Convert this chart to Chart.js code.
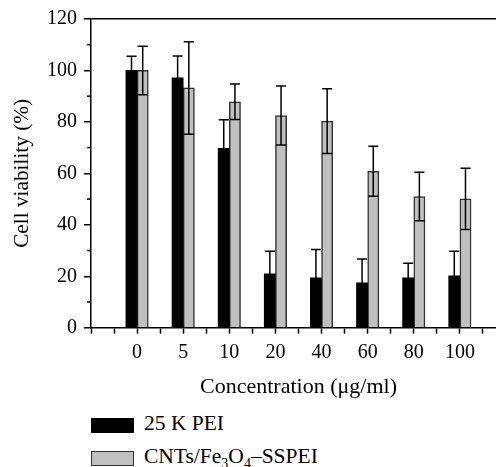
<!DOCTYPE html>
<html>
<head>
<meta charset="utf-8">
<script src="https://cdn.jsdelivr.net/npm/chart.js@4.4.0/dist/chart.umd.min.js"></script>
<style>
  body { margin: 0; overflow: hidden; background: #fff; font-family: "Liberation Serif", serif; }
  #wrap { position: relative; width: 520px; height: 467px; }
  .item { position: absolute; left: 91px; height: 23px; line-height: 23px; font-size: 21.5px; white-space: nowrap; }
  .swatch { position: absolute; left: 0; top: 4px; width: 43px; height: 15px; box-sizing: border-box; }
  .label { position: absolute; left: 53px; top: -2px; }
  sub { font-size: 14px; line-height: 0; }
</style>
</head>
<body>
<div id="wrap">
  <canvas id="chart" width="520" height="410"></canvas>
  <div id="legend"></div>
</div>
<script>
// concentrations (ug/ml) used as x tick labels
const concentrations = ['0', '5', '10', '20', '40', '60', '80', '100'];

// 25 K PEI
const peiViability = [100, 97.1, 69.7, 20.9, 19.4, 17.4, 19.4, 20.2];
const peiError = [5.5, 8.5, 11.1, 8.8, 11.0, 9.3, 5.7, 9.5];

// CNTs/Fe3O4-SSPEI
const ssPeiViability = [100, 93.2, 87.8, 82.5, 80.3, 60.8, 51.0, 50.1];
const ssPeiError = [9.4, 18.0, 6.9, 11.5, 12.6, 9.7, 9.4, 11.9];

const seriesNames = ['25 K PEI', 'CNTs/Fe<sub>3</sub>O<sub>4</sub>–SSPEI'];
const yMinorTicks = [10, 30, 50, 70, 90, 110];

const tickFont = { family: '"Liberation Serif", serif', size: 20 };
const xTitleFont = { family: '"Liberation Serif", serif', size: 22 };
const yTitleFont = { family: '"Liberation Serif", serif', size: 21.3 };

// error bars drawn from each bar element + y scale
const errorBars = {
  id: 'errorBars',
  afterDatasetsDraw(chart) {
    const { ctx, scales: { y } } = chart;
    ctx.save();
    ctx.strokeStyle = '#000';
    ctx.lineWidth = 1.5;
    chart.data.datasets.forEach((ds, di) => {
      chart.getDatasetMeta(di).data.forEach((bar, i) => {
        const v = ds.data[i].y, e = ds.errors[i];
        const top = y.getPixelForValue(v + e);
        const bot = y.getPixelForValue(v - e);
        const cap = 5;
        ctx.beginPath();
        ctx.moveTo(bar.x, top); ctx.lineTo(bar.x, bot);
        ctx.moveTo(bar.x - cap, top); ctx.lineTo(bar.x + cap, top);
        ctx.moveTo(bar.x - cap, bot); ctx.lineTo(bar.x + cap, bot);
        ctx.stroke();
      });
    });
    ctx.restore();
  }
};

// short minor ticks on the y axis
const minorTicks = {
  id: 'minorTicks',
  afterDraw(chart) {
    const { ctx, chartArea, scales: { y } } = chart;
    ctx.save();
    ctx.strokeStyle = '#000';
    ctx.lineWidth = 1.5;
    yMinorTicks.forEach(v => {
      const py = y.getPixelForValue(v);
      ctx.beginPath();
      ctx.moveTo(chartArea.left - 4, py);
      ctx.lineTo(chartArea.left, py);
      ctx.stroke();
    });
    ctx.restore();
  }
};

const chart = new Chart(document.getElementById('chart'), {
  type: 'bar',
  data: {
    datasets: [
      {
        label: '25 K PEI',
        data: concentrations.map((c, i) => ({ x: i, y: peiViability[i] })),
        errors: peiError,
        backgroundColor: '#000',
        borderColor: '#000',
        borderWidth: 0
      },
      {
        label: 'CNTs/Fe3O4–SSPEI',
        data: concentrations.map((c, i) => ({ x: i, y: ssPeiViability[i] })),
        errors: ssPeiError,
        backgroundColor: '#c0c0c0',
        borderColor: '#333',
        borderWidth: 1.5
      }
    ]
  },
  options: {
    responsive: false,
    animation: false,
    barThickness: 11.2,
    layout: { padding: { top: 15.1, left: 0, right: 14, bottom: 0 } },
    plugins: { legend: { display: false }, tooltip: { enabled: false } },
    scales: {
      x: {
        type: 'linear',
        min: -1,
        max: 8,
        offset: false,
        ticks: {
          stepSize: 0.5,
          autoSkip: false,
          maxRotation: 0,
          padding: 7,
          color: '#000',
          font: tickFont,
          callback: v => (Number.isInteger(v) && v >= 0 && v < concentrations.length) ? concentrations[v] : ''
        },
        grid: { drawOnChartArea: false, tickLength: 6, tickColor: '#000', tickWidth: 1.5, offset: false },
        border: { color: '#000', width: 1.5 },
        title: { display: true, text: 'Concentration (μg/ml)', color: '#000', font: xTitleFont, padding: { top: 0, bottom: 10 } },
        afterFit(scale) { scale.height = 410 - 327.7; }
      },
      y: {
        min: 0,
        max: 120,
        ticks: { stepSize: 20, padding: 7, color: '#000', font: tickFont },
        grid: {
          color: c => (c.tick && c.tick.value === 120) ? '#000' : 'rgba(0,0,0,0)',
          lineWidth: 1.5,
          tickColor: '#000',
          tickLength: 7,
          tickWidth: 1.5
        },
        border: { color: '#000', width: 1.5 },
        title: { display: true, text: 'Cell viability (%)', color: '#000', font: yTitleFont, padding: { top: 10, bottom: 0 } },
        afterFit(scale) { scale.width = 91; }
      }
    }
  },
  plugins: [errorBars, minorTicks]
});

// legend built from the datasets
const legend = document.getElementById('legend');
chart.data.datasets.forEach((ds, i) => {
  const item = document.createElement('div');
  item.className = 'item';
  item.style.top = (414 + i * 33.4) + 'px';
  const border = ds.borderWidth ? ds.borderWidth + 'px solid ' + ds.borderColor : 'none';
  item.innerHTML = '<span class="swatch" style="background:' + ds.backgroundColor + ';border:' + border + '"></span>' +
    '<span class="label">' + seriesNames[i] + '</span>';
  legend.appendChild(item);
});
</script>
</body>
</html>
